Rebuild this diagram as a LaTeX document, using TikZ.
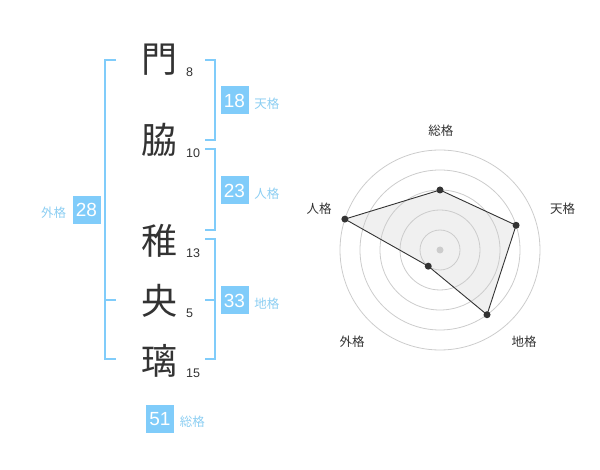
\documentclass[tikz,border=0pt]{standalone}
\usepackage{fontspec}
\setmainfont{Liberation Sans}
\newfontfamily\cjk{Noto Sans CJK JP}
\usepackage{xcolor}
\usetikzlibrary{positioning}

\definecolor{kakublue}{RGB}{128,204,250}
\definecolor{kakutext}{RGB}{140,206,242}
\definecolor{inkgray}{RGB}{51,51,51}
\definecolor{ringgray}{RGB}{204,204,204}

\begin{document}
\begin{tikzpicture}[x=1pt, y=-1pt,
    kanji/.style={inner sep=0pt, text=inkgray, font=\cjk\fontsize{36}{40}\selectfont},
    stroke/.style={inner sep=0pt, anchor=west, text=inkgray, font=\fontsize{12.5}{14}\selectfont},
    kakubox/.style={fill=kakublue, text=white, inner sep=0pt, minimum size=28pt, font=\fontsize{19}{20}\selectfont},
    kakuname/.style={inner sep=0pt, text=kakutext, font=\cjk\fontsize{12.5}{14}\selectfont},
    bracket/.style={draw=kakublue, line width=2pt},
    ring/.style={draw=ringgray, line width=0.8pt},
    axisname/.style={inner sep=0pt, text=inkgray, font=\cjk\fontsize{12.5}{14}\selectfont},
    dot/.style={circle, fill=inkgray, inner sep=0pt, minimum size=7pt}]
    \useasboundingbox (0,0) rectangle (600,470);

    % Caratteri del nome
    \node[kanji] (c1) at (159,60) {門};
    \node[kanji] (c2) at (159,140) {脇};
    \node[kanji] (c3) at (159,241) {稚};
    \node[kanji] (c4) at (159,301) {央};
    \node[kanji] (c5) at (159,361) {璃};

    % Numero di tratti
    \node[stroke] (n1) at (186,72.5) {8};
    \node[stroke] (n2) at (186,153) {10};
    \node[stroke] (n3) at (186,253) {13};
    \node[stroke] (n4) at (186,313) {5};
    \node[stroke] (n5) at (186,373) {15};

    % Parentesi
    \draw[bracket] (205,60) -- (215,60) -- (215,140) -- (205,140);
    \draw[bracket] (205,149) -- (215,149) -- (215,230) -- (205,230);
    \draw[bracket] (205,239) -- (215,239) -- (215,359) -- (205,359);
    \draw[bracket] (205,300) -- (215,300);
    \draw[bracket] (116,60) -- (105,60) -- (105,359) -- (116,359);
    \draw[bracket] (105,300) -- (116,300);

    % Riquadri dei valori
    \node[kakubox] (ten) at (234.5,100.5) {18};
    \node[kakuname, right=5.5pt of ten, yshift=-3pt] (tenname) {天格};
    \node[kakubox] (jin) at (234.5,190.5) {23};
    \node[kakuname, right=5.5pt of jin, yshift=-3pt] (jinname) {人格};
    \node[kakubox] (chi) at (234.5,300.5) {33};
    \node[kakuname, right=5.5pt of chi, yshift=-3pt] (chiname) {地格};
    \node[kakubox] (gai) at (86.5,210) {28};
    \node[kakuname, left=6pt of gai, yshift=-3pt] (gainame) {外格};
    \node[kakubox] (sou) at (160,419) {51};
    \node[kakuname, right=5.5pt of sou, yshift=-3pt] (souname) {総格};

    % Grafico radar
    \begin{scope}[shift={(440,250)}]
        \coordinate (p1) at (90:60pt);
        \coordinate (p2) at (18:80pt);
        \coordinate (p3) at (-54:80pt);
        \coordinate (p4) at (234:20pt);
        \coordinate (p5) at (162:100pt);
        \fill[black!6] (p1) -- (p2) -- (p3) -- (p4) -- (p5) -- cycle;
        \foreach \r in {20,40,60,80,100}
            \draw[ring] (0,0) circle[radius=\r pt];
        \fill[ringgray] (0,0) circle[radius=3.5pt];
        \draw[inkgray, line width=0.9pt] (p1) -- (p2) -- (p3) -- (p4) -- (p5) -- cycle;
        \foreach \p in {p1,p2,p3,p4,p5}
            \node[dot] at (\p) {};
    \end{scope}

    % Etichette degli assi
    \node[axisname] (a1) at (440.8,130.8) {総格};
    \node[axisname] (a2) at (562.5,208.5) {天格};
    \node[axisname] (a3) at (524,342) {地格};
    \node[axisname] (a4) at (352,342) {外格};
    \node[axisname] (a5) at (319,208.5) {人格};
\end{tikzpicture}
\end{document}
